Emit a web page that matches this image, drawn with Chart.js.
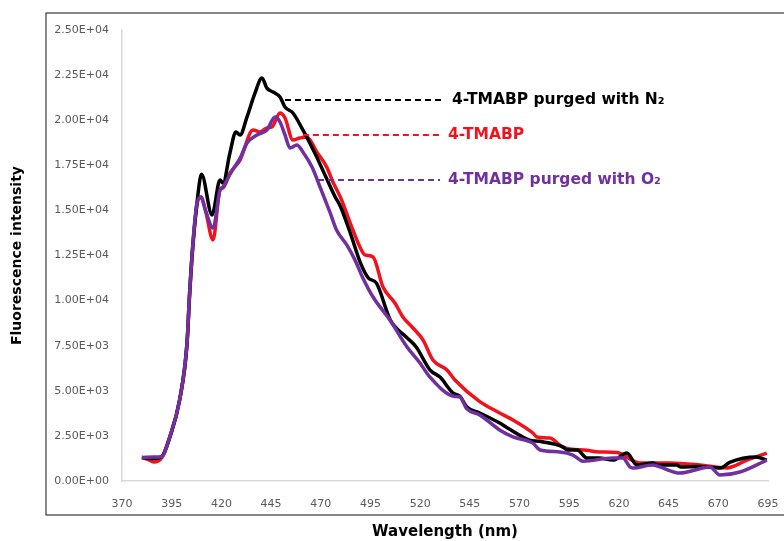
<!DOCTYPE html>
<html>
<head>
<meta charset="utf-8">
<script src="https://cdn.jsdelivr.net/npm/chart.js@4"></script>
<style>
  html, body { margin: 0; padding: 0; background: #fff; }
  #wrap { width: 784px; height: 541px; }
</style>
</head>
<body>
<div id="wrap"><canvas id="spectrum"></canvas></div>
<script>
// wavelength (nm) / intensity pairs
const n2Wave = [380, 386, 390, 394, 399, 402.7, 404, 405.7, 407.7, 410, 415.3, 419.3, 420.8, 424.3, 427.3, 429.4, 432.9, 436.9, 440.4, 442.9, 446, 449.5, 452, 456, 461, 467, 473, 477, 480, 485, 490, 494, 498, 505, 513, 518, 525, 530, 536.5, 540, 543.5, 550, 560, 564, 575, 580, 592, 594, 599, 604, 610, 617, 624, 629, 637, 640, 649, 651, 660, 671, 676, 689, 694.4];
const n2Int = [1300, 1250, 1350, 2400, 4500, 7650, 10400, 13200, 15400, 17000, 14750, 16680, 16520, 18180, 19350, 19180, 20180, 21500, 22340, 21780, 21560, 21290, 20730, 20400, 19460, 18180, 16750, 15800, 15190, 13700, 12080, 11250, 10970, 8920, 7980, 7430, 6150, 5760, 4880, 4700, 4100, 3770, 3210, 2940, 2270, 2200, 1880, 1720, 1720, 1270, 1270, 1160, 1550, 890, 1000, 890, 890, 780, 800, 720, 1050, 1330, 1160];

const plainWave = [380, 383, 386, 390, 394, 399, 402.7, 404, 405.7, 407.7, 409.7, 412, 415.8, 419.3, 420.8, 424.3, 429.4, 435.9, 439.4, 442.9, 445.4, 449.5, 452, 456, 459.5, 463, 468, 473, 476, 480, 486.2, 489.7, 492.2, 496.3, 501.3, 507.3, 511.3, 516.4, 521.4, 526.4, 533.5, 537.5, 550, 560, 566.7, 576.7, 578.7, 585.3, 591.8, 603.9, 610, 619, 630.6, 645.6, 660.7, 674.3, 684.4, 694.4];
const plainInt = [1300, 1200, 1050, 1300, 2440, 4490, 7500, 10200, 13000, 15300, 15740, 15000, 13360, 16130, 16240, 17070, 17790, 19460, 19350, 19570, 19620, 20400, 20120, 18900, 19010, 19070, 18240, 17400, 16600, 15700, 13900, 12970, 12530, 12420, 10750, 9870, 9090, 8480, 7820, 6710, 6150, 5600, 4400, 3770, 3380, 2660, 2440, 2380, 1880, 1700, 1610, 1580, 1000, 1000, 890, 720, 1160, 1550];

const o2Wave = [380, 386, 390, 394, 399, 402.7, 404, 405.7, 407.7, 409.7, 412, 415.8, 419.3, 420.8, 424.3, 429.4, 432.9, 437.9, 442.9, 447, 449.5, 452, 454.5, 458, 461, 465.6, 469.6, 474.6, 478, 483, 487, 491, 496.3, 504.8, 513.4, 519.9, 524.9, 537, 540, 543.5, 550, 560, 566.7, 576.7, 580.3, 590.3, 596.9, 601.9, 617, 622, 625.5, 627, 637, 640.6, 650.7, 665.8, 670.8, 680.9, 694.4];
const o2Int = [1300, 1330, 1350, 2440, 4490, 7650, 10400, 13200, 15400, 15740, 15000, 14020, 16130, 16300, 17000, 17900, 18740, 19180, 19460, 20180, 19900, 19180, 18460, 18620, 18240, 17400, 16300, 14900, 13900, 13100, 12300, 11300, 10200, 8920, 7430, 6540, 5760, 4700, 4660, 4000, 3660, 2830, 2440, 2100, 1720, 1610, 1440, 1100, 1270, 1270, 780, 720, 890, 780, 440, 780, 330, 500, 1160];

const seriesNames = ['4-TMABP purged with N\u2082', '4-TMABP', '4-TMABP purged with O\u2082'];
const seriesColors = ['#000000', '#f2121d', '#7030a0'];

// callout lines: where each dashed leader leaves its curve and where the text sits
const calloutFromWave = [452, 461, 468.6];
const calloutFromInt = [21120, 19180, 16680];
const calloutToWave = [532, 530, 530];

const toPoints = (xs, ys) => xs.map((x, i) => ({ x: x, y: ys[i] }));

function sciLabel(v) {
  if (v === 0) return '0.00E+00';
  const exp = Math.floor(Math.log10(Math.abs(v)));
  const mant = v / Math.pow(10, exp);
  return mant.toFixed(2) + 'E+' + String(exp).padStart(2, '0');
}

const frameAndCallouts = {
  id: 'frameAndCallouts',
  afterDraw(chart) {
    const { ctx, chartArea, scales } = chart;
    ctx.save();
    // outer frame around the plot
    ctx.strokeStyle = '#3a3a3a';
    ctx.lineWidth = 1.2;
    ctx.strokeRect(chartArea.left - 76, chartArea.top - 17, 900, chartArea.bottom - chartArea.top + 51);

    ctx.font = 'bold 15.5px "DejaVu Sans"';
    ctx.textBaseline = 'middle';
    ctx.textAlign = 'left';
    seriesNames.forEach((name, i) => {
      const x0 = scales.x.getPixelForValue(calloutFromWave[i]);
      const x1 = scales.x.getPixelForValue(calloutToWave[i]);
      const y = scales.y.getPixelForValue(calloutFromInt[i]);
      ctx.strokeStyle = seriesColors[i];
      ctx.lineWidth = 2;
      ctx.setLineDash([6, 4]);
      ctx.beginPath();
      ctx.moveTo(x0, y);
      ctx.lineTo(x1, y);
      ctx.stroke();
      ctx.fillStyle = seriesColors[i];
      ctx.fillText(name, x1 + 8, y);
    });
    ctx.restore();
  }
};

new Chart(document.getElementById('spectrum'), {
  type: 'line',
  data: {
    datasets: [
      { label: seriesNames[1], data: toPoints(plainWave, plainInt), borderColor: seriesColors[1], order: 2 },
      { label: seriesNames[0], data: toPoints(n2Wave, n2Int), borderColor: seriesColors[0], order: 1 },
      { label: seriesNames[2], data: toPoints(o2Wave, o2Int), borderColor: seriesColors[2], order: 0 }
    ]
  },
  options: {
    responsive: true,
    maintainAspectRatio: false,
    animation: false,
    layout: { padding: { left: 0, right: 16, top: 30, bottom: 0 } },
    elements: {
      point: { radius: 0 },
      line: { borderWidth: 3.5, cubicInterpolationMode: 'monotone', fill: false }
    },
    plugins: { legend: { display: false }, tooltip: { enabled: false } },
    scales: {
      x: {
        type: 'linear',
        min: 370,
        max: 695,
        grid: { display: false },
        border: { display: true, color: '#d9d9d9', width: 1.5 },
        ticks: { stepSize: 25, padding: 9, color: '#595959', font: { family: 'DejaVu Sans', size: 11 }, maxRotation: 0 },
        title: { display: true, text: 'Wavelength (nm)', color: '#000', font: { family: 'DejaVu Sans', size: 15, weight: 'bold' }, padding: { top: 0, bottom: 0 } },
        afterFit(scale) {
          scale.height = 60;
          scale.paddingLeft = 0;
          scale.paddingRight = 0;
        }
      },
      y: {
        min: 0,
        max: 25000,
        grid: { display: false },
        border: { display: true, color: '#d9d9d9', width: 1.5 },
        ticks: { stepSize: 2500, padding: 5, color: '#595959', font: { family: 'DejaVu Sans', size: 11 }, callback: v => sciLabel(v) },
        title: { display: true, text: 'Fluorescence intensity', color: '#000', font: { family: 'DejaVu Sans', size: 14, weight: 'bold' }, padding: { top: 9, bottom: 0 } },
        afterFit(scale) { scale.width = 122; }
      }
    }
  },
  plugins: [frameAndCallouts]
});
</script>
</body>
</html>
